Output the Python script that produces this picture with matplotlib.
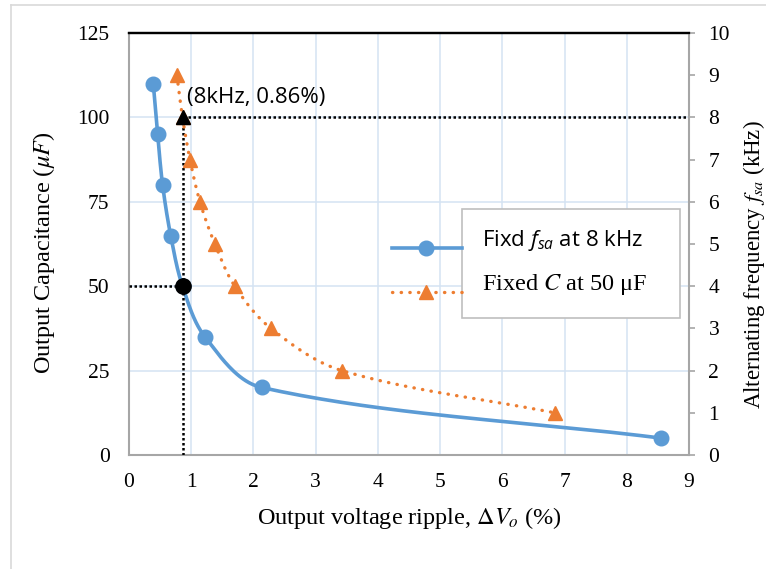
import numpy as np
import matplotlib.pyplot as plt
from matplotlib.lines import Line2D
from matplotlib.patches import Rectangle

plt.rcParams['font.family'] = ['Liberation Serif', 'DejaVu Serif']
plt.rcParams['mathtext.fontset'] = 'custom'
plt.rcParams['mathtext.rm'] = 'Open Sans'
plt.rcParams['mathtext.it'] = 'Open Sans:italic'

# fixed f_sa at 8 kHz: ripple (%) vs output capacitance (uF)
ripple_c = [0.39, 0.46, 0.54, 0.67, 0.86, 1.22, 2.13, 8.55]
cap_uF = [110, 95, 80, 65, 50, 35, 20, 5]
# fixed C at 50 uF: ripple (%) vs alternating frequency (kHz)
ripple_f = [0.77, 0.86, 0.98, 1.14, 1.38, 1.70, 2.28, 3.42, 6.84]
freq_kHz = [9, 8, 7, 6, 5, 4, 3, 2, 1]
# chosen operating point
op_ripple = 0.86
op_cap = 50
op_freq = 8
op_cap_eq = 100  # 8 kHz on the left scale

xticks = list(range(0, 10))
cap_ticks = [0, 25, 50, 75, 100, 125]
freq_ticks = list(range(0, 11))

blue = '#5B9BD5'
orange = '#ED7D31'
grey = '#a6a6a6'


def smooth(x, y, sx, sy, n=40):
    # excel-like smoothed line: bezier through the points, built in pixel space
    p = np.column_stack([np.asarray(x, float) / sx, np.asarray(y, float) / sy])
    p = np.vstack([p[0], p, p[-1]])
    t = np.linspace(0, 1, n)[:, None]
    segs = []
    for i in range(1, len(p) - 2):
        p0, p1, p2, p3 = p[i - 1], p[i], p[i + 1], p[i + 2]
        d01 = np.hypot(*(p1 - p0))
        d12 = np.hypot(*(p2 - p1))
        d23 = np.hypot(*(p3 - p2))
        c1 = p1 + (p2 - p0) * d12 / (d01 + d12) / 3
        c2 = p2 - (p3 - p1) * d12 / (d12 + d23) / 3
        segs.append((1 - t) ** 3 * p1 + 3 * (1 - t) ** 2 * t * c1
                    + 3 * (1 - t) * t ** 2 * c2 + t ** 3 * p2)
    s = np.vstack(segs)
    return s[:, 0] * sx, s[:, 1] * sy


fig = plt.figure(figsize=(7.66, 5.69), dpi=100)
ax = fig.add_axes([0.1684, 0.2004, 0.7311, 0.7416])
ax2 = ax.twinx()

ax.set_xlim(0, 9)
ax.set_ylim(0, 125)
ax2.set_ylim(0, 10)
ax.set_xticks(xticks)
ax.set_yticks(cap_ticks)
ax2.set_yticks(freq_ticks)

ax.grid(True, color='#d4e3f3', lw=1.1)
ax.set_axisbelow(True)

# px per unit: x 560px over 9, left 422px over 125, right 422px over 10
sx = 9 / 560
xs, ys = smooth(ripple_c, cap_uF, sx, 125 / 422)
ax.plot(xs, ys, color=blue, lw=2.6, zorder=2)
ax.plot(ripple_c, cap_uF, 'o', color=blue, ms=10.5, zorder=3)

xs, ys = smooth(ripple_f, freq_kHz, sx, 10 / 422)
ax2.plot(xs, ys, color=orange, lw=2.4, linestyle=(0, (0.1, 2.5)),
         dash_capstyle='round', zorder=2)
ax2.plot(ripple_f, freq_kHz, '^', color=orange, ms=10, zorder=3)

# operating point guides
for gx, gy in [([0, op_ripple], [op_cap, op_cap]),
               ([op_ripple, op_ripple], [0, op_cap_eq]),
               ([op_ripple, 9], [op_cap_eq, op_cap_eq])]:
    ax.plot(gx, gy, color='black', lw=1.8, linestyle=(0, (1, 1)), zorder=4)
ax2.plot([op_ripple], [op_cap / 12.5], 'o', color='black', ms=11, zorder=5)
ax2.plot([op_ripple], [op_freq], '^', color='black', ms=10, zorder=5)
ax2.text(0.93, 8.48, '(8kHz, 0.86%)', family='Open Sans', fontsize=16,
         va='center', ha='left', zorder=6)

# legend, drawn by hand like the excel one
tr = ax2.transAxes
ax2.add_patch(Rectangle((0.595, 0.325), 0.389, 0.258, transform=tr,
                        facecolor='white', edgecolor='#bfbfbf', lw=1.2, zorder=6))
ax2.add_line(Line2D([0.470, 0.595], [0.4905, 0.4905], color=blue, lw=2.6,
                    transform=tr, zorder=6))
ax2.add_line(Line2D([0.531], [0.4905], marker='o', color=blue, ms=10.5,
                    transform=tr, zorder=7))
ax2.add_line(Line2D([0.470, 0.595], [0.386, 0.386], color=orange, lw=2.4,
                    linestyle=(0, (0.1, 2.5)), dash_capstyle='round',
                    transform=tr, zorder=6))
ax2.add_line(Line2D([0.531], [0.386], marker='^', color=orange, ms=10,
                    transform=tr, zorder=7))
ax2.text(0.630, 0.509, r'Fixd $\mathit{f}_{\mathit{sa}}$ at 8 kHz', family='Open Sans',
         fontsize=16, transform=tr, va='center', ha='left', zorder=8)
ax2.text(0.630, 0.403, r'Fixed $C$ at 50 μF', fontsize=17.5, transform=tr,
         va='center', ha='left', zorder=8, math_fontfamily='stix')

# spines and ticks
for a in (ax, ax2):
    for side in ('left', 'bottom', 'right'):
        a.spines[side].set_color(grey)
        a.spines[side].set_linewidth(1.5)
    a.spines['top'].set_color('black')
    a.spines['top'].set_linewidth(1.6)
ax2.spines['left'].set_visible(False)
ax2.spines['bottom'].set_visible(False)
ax.spines['right'].set_visible(False)

ax.tick_params(axis='both', length=0, labelsize=15.5)
ax.tick_params(axis='y', pad=14)
ax.tick_params(axis='x', pad=13)
ax2.tick_params(axis='y', length=4, width=1.2, color=grey, pad=10, labelsize=15.5)

ax.set_xlabel(r'Output voltage ripple, $\mathit{\Delta V_o}$ (%)', fontsize=17.5,
              math_fontfamily='stix')
ax.set_ylabel(r'Output Capacitance ($\mu F$)', fontsize=17.5, math_fontfamily='stix')
ax2.set_ylabel(r'Alternating frequency $f_{sa}$ (kHz)', fontsize=16.5,
               math_fontfamily='stix')
ax.xaxis.set_label_coords(0.5, -0.118)
ax.yaxis.set_label_coords(-0.128, 0.48)
ax2.yaxis.set_label_coords(1.092, 0.45)

# chart frame
fig.add_artist(Line2D([11 / 766, 11 / 766], [0, 1 - 5 / 569], color='#d9d9d9', lw=1.2))
fig.add_artist(Line2D([11 / 766, 1], [1 - 5 / 569, 1 - 5 / 569], color='#d9d9d9', lw=1.2))

fig.savefig('out.png', dpi=100)
